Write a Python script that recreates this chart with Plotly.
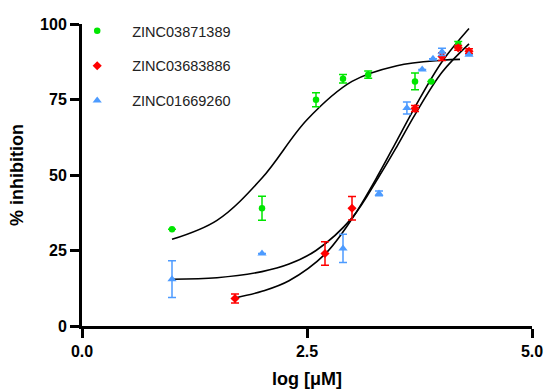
import plotly.graph_objects as go

# ---- data ----
names = ["ZINC03871389", "ZINC03683886", "ZINC01669260"]

green_x = [1.0, 2.0, 2.6, 2.9, 3.18, 3.7, 3.88, 4.18]
green_y = [32.0, 39.0, 74.9, 81.9, 83.2, 81.0, 81.0, 93.2]
green_err = [0.0, 4.0, 2.3, 1.4, 1.2, 2.8, 0.0, 1.0]

red_x = [1.7, 2.7, 3.0, 3.7, 4.0, 4.18, 4.3]
red_y = [9.1, 24.0, 39.0, 72.0, 89.2, 92.1, 91.0]
red_err = [1.5, 3.9, 3.9, 1.0, 1.3, 0.8, 0.8]

blue_x = [1.0, 2.0, 2.9, 3.3, 3.61, 3.78, 3.9, 4.0, 4.3]
blue_y = [15.5, 24.0, 25.7, 43.9, 72.2, 84.9, 88.5, 90.8, 89.8]
blue_err = [6.1, 0.0, 4.7, 0.8, 2.0, 0.0, 0.0, 1.2, 0.0]

# fitted curves
green_fit_x = [1.0, 1.5, 2.0, 2.5, 3.0, 3.5, 4.0, 4.2]
green_fit_y = [28.7, 35.0, 49.0, 68.3, 81.0, 86.2, 88.0, 88.3]

red_fit_x = [1.7, 2.0, 2.3, 2.7, 3.0, 3.3, 3.5, 3.7, 4.0, 4.3]
red_fit_y = [9.3, 11.5, 15.0, 23.8, 35.5, 50.5, 61.5, 72.5, 87.5, 98.5]

blue_fit_x = [1.0, 1.5, 2.0, 2.3, 2.6, 3.0, 3.3, 3.5, 3.7, 4.0, 4.3]
blue_fit_y = [15.5, 16.0, 18.0, 20.5, 25.0, 35.8, 49.5, 59.5, 70.0, 84.0, 93.4]

x_ticks = [0.0, 2.5, 5.0]
x_tick_text = ["0.0", "2.5", "5.0"]
y_ticks = [0, 25, 50, 75, 100]

colors = ["#00e600", "#ff0000", "#4d9bff"]
symbols = ["circle", "diamond", "triangle-up"]
sizes = [6.5, 7, 8]

FONT = "Liberation Sans, Arial"

fig = go.Figure()

for fx, fy in [(green_fit_x, green_fit_y), (red_fit_x, red_fit_y), (blue_fit_x, blue_fit_y)]:
    fig.add_trace(go.Scatter(x=fx, y=fy, mode="lines",
                             line=dict(color="black", width=1.6, shape="spline", smoothing=1.0),
                             showlegend=False, hoverinfo="skip"))

series = [(green_x, green_y, green_err), (red_x, red_y, red_err), (blue_x, blue_y, blue_err)]
for i, (sx, sy, se) in enumerate(series):
    fig.add_trace(go.Scatter(
        x=sx, y=sy, mode="markers", name=names[i], legendgroup=names[i],
        marker=dict(color=colors[i], symbol=symbols[i], size=sizes[i], line=dict(width=0)),
        error_y=dict(type="data", array=se, visible=True, color=colors[i], thickness=1.5, width=4),
    ))

tickfont = dict(family=FONT, size=16, color="black", weight="bold")
titlefont = dict(family=FONT, size=18, color="black", weight="bold")

fig.update_layout(
    width=549, height=391,
    margin=dict(l=82, r=17, t=24, b=65, autoexpand=False),
    paper_bgcolor="white", plot_bgcolor="white",
    showlegend=True,
    legend=dict(x=-0.044, y=1.03, xanchor="left", yanchor="top", bgcolor="rgba(0,0,0,0)",
                font=dict(family=FONT, size=14.5, color="#222"),
                itemwidth=60, tracegroupgap=13),
    xaxis=dict(range=[0, 5], tickvals=x_ticks, ticktext=x_tick_text, showgrid=False, zeroline=False,
               showline=True, linecolor="black", linewidth=3, ticks="outside", ticklen=9, tickwidth=2.5,
               tickcolor="black", tickfont=tickfont, automargin=False,
               title=dict(text="log [μM]", font=titlefont, standoff=14)),
    yaxis=dict(range=[0, 100], tickvals=y_ticks, showgrid=False, zeroline=False,
               showline=True, linecolor="black", linewidth=3, ticks="outside", ticklen=9, tickwidth=2.5,
               tickcolor="black", tickfont=tickfont, automargin=False,
               title=dict(text="% inhibition", font=titlefont, standoff=12)),
)

fig.write_html("out.html", config={"displayModeBar": False},
               post_script="document.body.style.margin='0';document.body.style.overflow='hidden';")
